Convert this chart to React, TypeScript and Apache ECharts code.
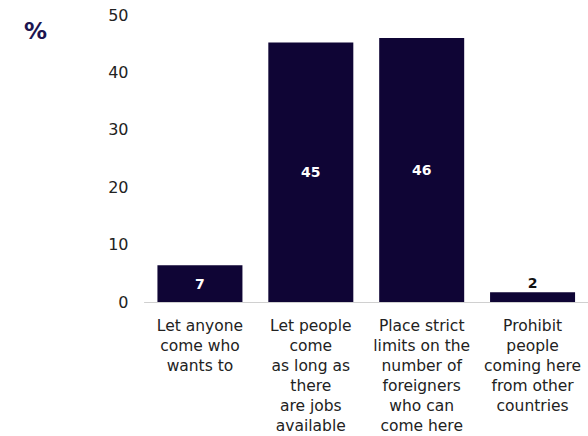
import React, { useEffect, useRef } from "react";
import * as echarts from "echarts";

const categories = [
  "Let anyone\ncome who\nwants to",
  "Let people\ncome\nas long as\nthere\nare jobs\navailable",
  "Place strict\nlimits on the\nnumber of\nforeigners\nwho can\ncome here",
  "Prohibit\npeople\ncoming here\nfrom other\ncountries",
];
const values = [6.4, 45.2, 46.0, 1.7];
const labelValues = [7, 45, 46, 2];
const yTicks = { min: 0, max: 50, interval: 10 };

const BAR = "#0f0535";
const FONT = "'DejaVu Sans', sans-serif";

export default function App() {
  const ref = useRef<HTMLDivElement>(null);
  useEffect(() => {
    const chart = echarts.init(ref.current!, null, { renderer: "svg" });
    chart.setOption({
      animation: false,
      textStyle: { fontFamily: FONT },
      grid: { left: 144.5, right: -4.5, top: 15, bottom: 133 },
      graphic: [
        {
          type: "text",
          left: 24,
          top: 19,
          style: { text: "%", fontSize: 23, fontWeight: 600, fill: "#1c1550", fontFamily: FONT },
        },
      ],
      xAxis: {
        type: "category",
        data: categories,
        axisLine: { show: true, lineStyle: { color: "#d0d0d0", width: 1 } },
        axisTick: { show: false },
        axisLabel: {
          interval: 0,
          margin: 14,
          fontSize: 15.5,
          lineHeight: 20,
          color: "#222",
          fontFamily: FONT,
          align: "center",
        },
      },
      yAxis: {
        type: "value",
        min: yTicks.min,
        max: yTicks.max,
        interval: yTicks.interval,
        splitLine: { show: false },
        axisLine: { show: false },
        axisTick: { show: false },
        axisLabel: { fontSize: 16, color: "#222", margin: 16, fontFamily: FONT },
      },
      series: [
        {
          type: "bar",
          barWidth: 85,
          data: values.map((v, i) => ({
            value: v,
            label: {
              show: true,
              position: i === 3 ? "top" : "inside",
              color: i === 3 ? "#111" : "#fff",
              distance: 2,
              formatter: () => String(labelValues[i]),
            },
          })),
          itemStyle: { color: BAR },
          label: { fontSize: 14, fontWeight: "bold", fontFamily: FONT },
        },
      ],
    });
    return () => chart.dispose();
  }, []);
  return (
    <div
      ref={ref}
      style={{ position: "fixed", left: 0, top: 0, width: 588, height: 436, background: "#fff" }}
    />
  );
}
